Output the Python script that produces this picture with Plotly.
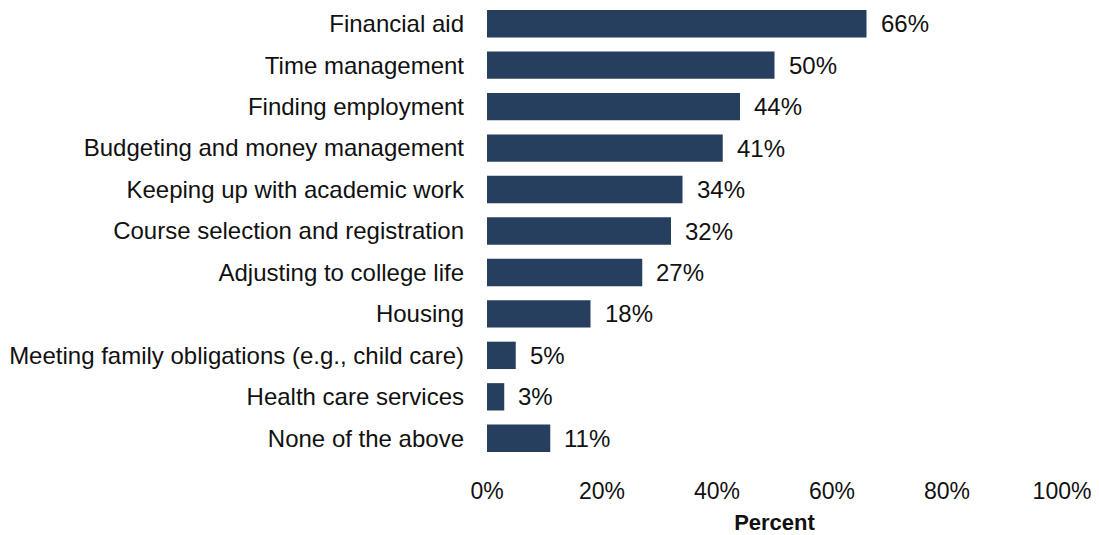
import plotly.graph_objects as go

# Survey categories (top to bottom) and share of respondents
categories = [
    "Financial aid",
    "Time management",
    "Finding employment",
    "Budgeting and money management",
    "Keeping up with academic work",
    "Course selection and registration",
    "Adjusting to college life",
    "Housing",
    "Meeting family obligations (e.g., child care)",
    "Health care services",
    "None of the above",
]
values = [66, 50, 44, 41, 34, 32, 27, 18, 5, 3, 11]
x_ticks = [0, 20, 40, 60, 80, 100]
x_tick_labels = ["0%", "20%", "40%", "60%", "80%", "100%"]

BAR_COLOR = "#263f5f"
FONT = "Liberation Sans"
TEXT_COLOR = "#111111"

fig = go.Figure(
    go.Bar(
        x=values,
        y=categories,
        orientation="h",
        marker=dict(color=BAR_COLOR, line=dict(width=0)),
        width=0.66,
        hoverinfo="skip",
    )
)

# Value labels just past the end of each bar
for cat, v in zip(categories, values):
    fig.add_annotation(
        x=v, y=cat, text=f"{v}%", showarrow=False,
        xanchor="left", yanchor="middle", xshift=12,
        font=dict(family=FONT, size=24, color=TEXT_COLOR),
    )

fig.update_layout(
    width=1099, height=535,
    margin=dict(l=487, r=37, t=3, b=76),
    paper_bgcolor="white", plot_bgcolor="white",
    showlegend=False,
    font=dict(family=FONT, size=24, color=TEXT_COLOR),
)
fig.update_yaxes(
    categoryorder="array", categoryarray=categories[::-1],
    showgrid=False, showline=False, zeroline=False,
    ticks="", ticklabelstandoff=22,
    tickfont=dict(family=FONT, size=24, color=TEXT_COLOR),
)
fig.update_xaxes(
    range=[0, 100], tickvals=x_ticks, ticktext=x_tick_labels,
    showgrid=False, showline=False, zeroline=False,
    ticks="", ticklabelstandoff=16,
    tickfont=dict(family=FONT, size=23, color=TEXT_COLOR),
    title=dict(text="<b>Percent</b>", standoff=12,
               font=dict(family=FONT, size=22, color=TEXT_COLOR)),
)

fig.write_html("out.html")
